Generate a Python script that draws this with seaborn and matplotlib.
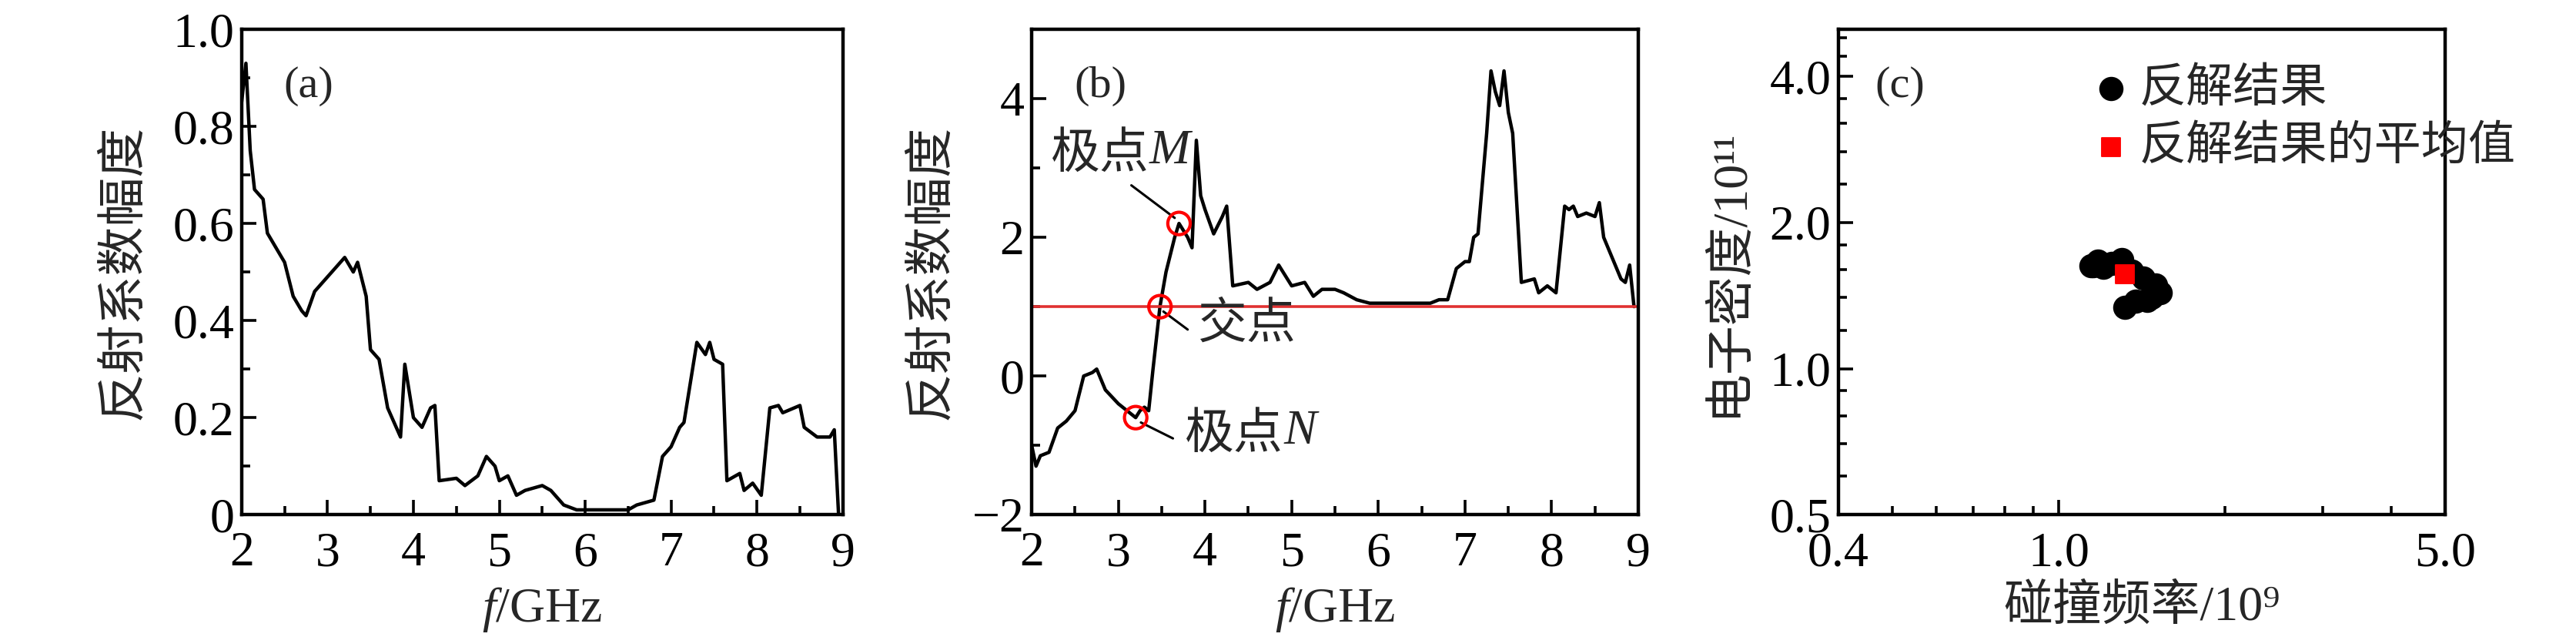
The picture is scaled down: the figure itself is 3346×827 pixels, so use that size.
import numpy as np
import pandas as pd
import matplotlib
matplotlib.use("Agg")
import matplotlib.pyplot as plt
import seaborn as sns
from matplotlib.ticker import MultipleLocator, FixedLocator, NullFormatter, FuncFormatter

sns.set_theme(style="ticks")
plt.rcParams['font.family'] = ['Liberation Serif', 'Noto Sans CJK SC', 'DejaVu Serif']
plt.rcParams['mathtext.fontset'] = 'custom'
plt.rcParams['mathtext.rm'] = 'Liberation Serif'
plt.rcParams['mathtext.it'] = 'Liberation Serif:italic'
plt.rcParams['axes.unicode_minus'] = True

freq_a = [2.0,2.05,2.1,2.15,2.25,2.3,2.4,2.5,2.6,2.7,2.75,2.85,3.0,3.1,3.2,3.3,3.35,3.45,3.5,3.6,3.7,3.8,3.85,3.9,4.0,4.1,4.2,4.25,4.3,4.5,4.6,4.75,4.85,4.95,5.0,5.1,5.2,5.3,5.5,5.6,5.75,5.9,6.0,6.5,6.6,6.8,6.9,7.0,7.1,7.15,7.25,7.3,7.4,7.45,7.5,7.6,7.65,7.8,7.85,7.95,8.05,8.15,8.25,8.3,8.5,8.55,8.7,8.85,8.9,8.95]
amp_a = [0.85,0.93,0.75,0.67,0.65,0.58,0.55,0.52,0.45,0.42,0.41,0.46,0.49,0.51,0.53,0.50,0.52,0.45,0.34,0.32,0.22,0.18,0.16,0.31,0.20,0.18,0.22,0.225,0.07,0.075,0.06,0.08,0.12,0.10,0.07,0.08,0.04,0.05,0.06,0.05,0.02,0.01,0.01,0.01,0.02,0.03,0.12,0.14,0.18,0.19,0.30,0.355,0.33,0.355,0.32,0.31,0.07,0.085,0.05,0.065,0.04,0.22,0.225,0.21,0.225,0.18,0.16,0.16,0.175,0.0]

freq_b = [2.0,2.05,2.1,2.2,2.3,2.4,2.5,2.6,2.7,2.75,2.85,3.0,3.15,3.2,3.25,3.3,3.35,3.4,3.48,3.55,3.65,3.7,3.8,3.85,3.9,3.95,4.0,4.1,4.2,4.25,4.32,4.5,4.6,4.75,4.85,4.95,5.0,5.15,5.25,5.35,5.5,5.6,5.75,5.9,6.0,6.5,6.6,6.7,6.8,6.9,7.0,7.05,7.1,7.15,7.25,7.3,7.35,7.4,7.45,7.5,7.55,7.65,7.8,7.85,7.95,8.05,8.15,8.2,8.25,8.3,8.4,8.5,8.55,8.6,8.7,8.8,8.85,8.9,8.95]
amp_b = [-1.0,-1.3,-1.15,-1.1,-0.75,-0.65,-0.5,0.0,0.05,0.1,-0.2,-0.4,-0.55,-0.6,-0.5,-0.45,-0.5,0.1,1.0,1.5,2.0,2.2,2.0,1.85,3.4,2.6,2.4,2.05,2.3,2.45,1.3,1.35,1.25,1.35,1.6,1.4,1.3,1.35,1.15,1.25,1.25,1.2,1.1,1.05,1.05,1.05,1.05,1.1,1.1,1.55,1.65,1.65,2.0,2.05,3.5,4.4,4.1,3.9,4.4,3.8,3.5,1.35,1.4,1.2,1.3,1.2,2.45,2.4,2.45,2.3,2.35,2.3,2.5,2.0,1.7,1.4,1.35,1.6,1.0]
ref_level = 1.0
marked_x = [3.7, 3.48, 3.2]
marked_y = [2.2, 1.0, -0.6]

coll_freq = [1.145,1.156,1.178,1.206,1.249,1.300,1.356,1.421,1.500,1.525,1.472,1.448,1.378,1.318]
e_density = [1.630,1.630,1.662,1.614,1.646,1.678,1.590,1.538,1.486,1.432,1.401,1.383,1.377,1.339]
mean_freq = [1.318]
mean_density = [1.565]

fs = 23
fig = plt.figure(figsize=(16.73, 4.135), dpi=200)
axa = fig.add_axes([0.0938, 0.192, 0.2334, 0.762])
axb = fig.add_axes([0.4005, 0.192, 0.2355, 0.762])
axc = fig.add_axes([0.7137, 0.192, 0.2355, 0.762])

def style(ax):
    for s in ax.spines.values():
        s.set_linewidth(1.6); s.set_color('black')
    ax.tick_params(which='both', direction='in', labelsize=fs, width=1.3, colors='black')
    ax.tick_params(which='major', length=7)
    ax.tick_params(which='minor', length=4)
    ax.tick_params(axis='x', pad=8)

sns.lineplot(x=freq_a, y=amp_a, ax=axa, color='black', lw=1.6)
axa.set_xlim(2, 9); axa.set_ylim(0, 1.0)
axa.xaxis.set_major_locator(MultipleLocator(1)); axa.xaxis.set_minor_locator(MultipleLocator(0.5))
axa.yaxis.set_major_locator(MultipleLocator(0.2)); axa.yaxis.set_minor_locator(MultipleLocator(0.1))
axa.yaxis.set_major_formatter(FuncFormatter(lambda v, p: '0' if abs(v) < 1e-9 else f'{v:.1f}'))
axa.set_xlabel('$f$/GHz', fontsize=fs, labelpad=4)
axa.set_ylabel('反射系数幅度', fontsize=fs, labelpad=12)
axa.text(0.07, 0.86, '(a)', transform=axa.transAxes, fontsize=fs-2)
style(axa)

sns.lineplot(x=freq_b, y=amp_b, ax=axb, color='black', lw=1.6)
axb.axhline(ref_level, color='#e03030', lw=1.3)
sns.scatterplot(x=marked_x, y=marked_y, ax=axb, s=110, facecolor='none', edgecolor='red', linewidth=1.5, zorder=5)
axb.set_xlim(2, 9); axb.set_ylim(-2, 5)
axb.xaxis.set_major_locator(MultipleLocator(1)); axb.xaxis.set_minor_locator(MultipleLocator(0.5))
axb.yaxis.set_major_locator(FixedLocator([-2, 0, 2, 4])); axb.yaxis.set_minor_locator(MultipleLocator(1))
axb.set_xlabel('$f$/GHz', fontsize=fs, labelpad=4)
axb.set_ylabel('反射系数幅度', fontsize=fs, labelpad=8)
axb.text(0.07, 0.86, '(b)', transform=axb.transAxes, fontsize=fs-2)

def callout(ax, cn, it, pt, txt_pos, line_start):
    t = ax.text(txt_pos[0], txt_pos[1], cn, fontsize=fs, va='bottom', ha='left')
    if it:
        ax.annotate(it, xy=(1, 0.1), xycoords=t, fontsize=fs, style='italic', va='bottom', ha='left')
    ax.annotate('', xy=pt, xytext=line_start,
                arrowprops=dict(arrowstyle='-', color='black', lw=1.1, shrinkA=0, shrinkB=0))

callout(axb, '极点', 'M', (marked_x[0]-0.05, marked_y[0]+0.08), (2.22, 2.85), (3.15, 2.75))
callout(axb, '交点', None, (marked_x[1]+0.04, marked_y[1]-0.07), (3.92, 0.4), (3.8, 0.67))
callout(axb, '极点', 'N', (marked_x[2]+0.06, marked_y[2]-0.07), (3.77, -1.2), (3.63, -0.9))
style(axb)

sns.scatterplot(x=coll_freq, y=e_density, ax=axc, color='black', s=110, edgecolor='black', label='反解结果', zorder=3)
sns.scatterplot(x=mean_freq, y=mean_density, ax=axc, color='red', marker='s', s=70, edgecolor='red', label='反解结果的平均值', zorder=4)
axc.set_xscale('log'); axc.set_yscale('log')
axc.set_xlim(0.4, 5.0); axc.set_ylim(0.5, 5.0)
axc.xaxis.set_major_locator(FixedLocator([0.4, 1.0, 5.0]))
axc.xaxis.set_major_formatter(FuncFormatter(lambda v, p: f'{v:.1f}'))
axc.xaxis.set_minor_locator(FixedLocator([0.5,0.6,0.7,0.8,0.9,2,3,4]))
axc.xaxis.set_minor_formatter(NullFormatter())
axc.yaxis.set_major_locator(FixedLocator([0.5, 1.0, 2.0, 4.0]))
axc.yaxis.set_major_formatter(FuncFormatter(lambda v, p: f'{v:.1f}'))
axc.yaxis.set_minor_locator(FixedLocator([0.6,0.7,0.8,0.9,1.2,1.4,1.6,1.8,2.4,2.8,3.2,3.6,4.4,4.8]))
axc.yaxis.set_minor_formatter(NullFormatter())
axc.set_xlabel('碰撞频率/10⁹', fontsize=fs, labelpad=4)
axc.set_ylabel('电子密度/10¹¹', fontsize=fs, labelpad=8)
axc.text(0.06, 0.86, '(c)', transform=axc.transAxes, fontsize=fs-2)
axc.legend(loc='upper left', bbox_to_anchor=(0.38, 0.96), frameon=False, fontsize=fs-1,
           handletextpad=0.1, borderaxespad=0, labelspacing=0.3, handlelength=1.0)
style(axc)

fig.savefig('out.png', dpi=200)
